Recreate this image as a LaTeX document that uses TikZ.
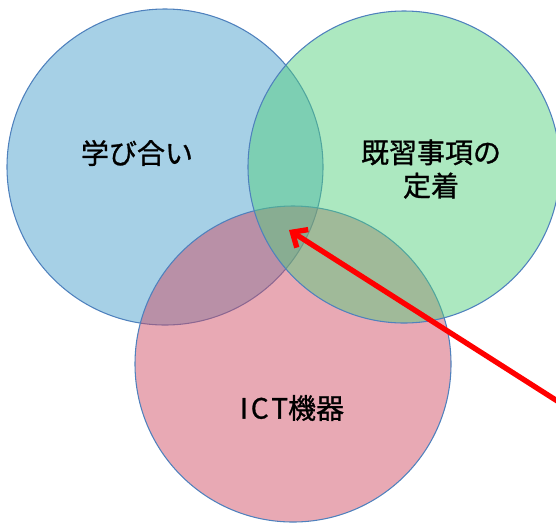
\documentclass[tikz,border=0pt]{standalone}
\usepackage{fontspec}
\setmainfont{Noto Sans CJK JP}[FakeBold=1]
\usetikzlibrary{arrows.meta}
\definecolor{cblue}{RGB}{70,157,203}
\definecolor{cgreen}{RGB}{82,207,124}
\definecolor{cpink}{RGB}{207,76,99}
\definecolor{cedge}{RGB}{79,129,189}
\definecolor{carrow}{RGB}{255,0,0}
\tikzset{
  venn/.style={circle, draw=cedge, line width=0.8pt, fill opacity=0.48, draw opacity=1, inner sep=0pt, minimum size=#1},
  lbl/.style={font=\fontsize{21}{25}\selectfont, align=center, inner sep=0pt},
  redarrow/.style={draw=carrow, line width=4pt, -{Straight Barb[length=9pt,width=16pt,line width=4pt]}}
}
\begin{document}
\begin{tikzpicture}[x=0.75pt,y=-0.75pt]
\useasboundingbox (0,0) rectangle (556,522);
\node[venn=237pt, fill=cblue] (blue) at (165,167) {};
\node[venn=237pt, fill=cpink] (pink) at (293,364) {};
\node[venn=234pt, fill=cgreen] (green) at (404,167) {};
\node[lbl] (t1) at (137,153) {学び合い};
\node[lbl] (t2) at (431,169) {既習事項の\\定着};
\node[lbl] (t3) at (292,408) {I\hspace{2pt}C\hspace{2pt}T機器};
\coordinate (tip) at (289,230);
\coordinate (tail) at (562,404);
\draw[redarrow] (tail) -- (tip);
\end{tikzpicture}
\end{document}
